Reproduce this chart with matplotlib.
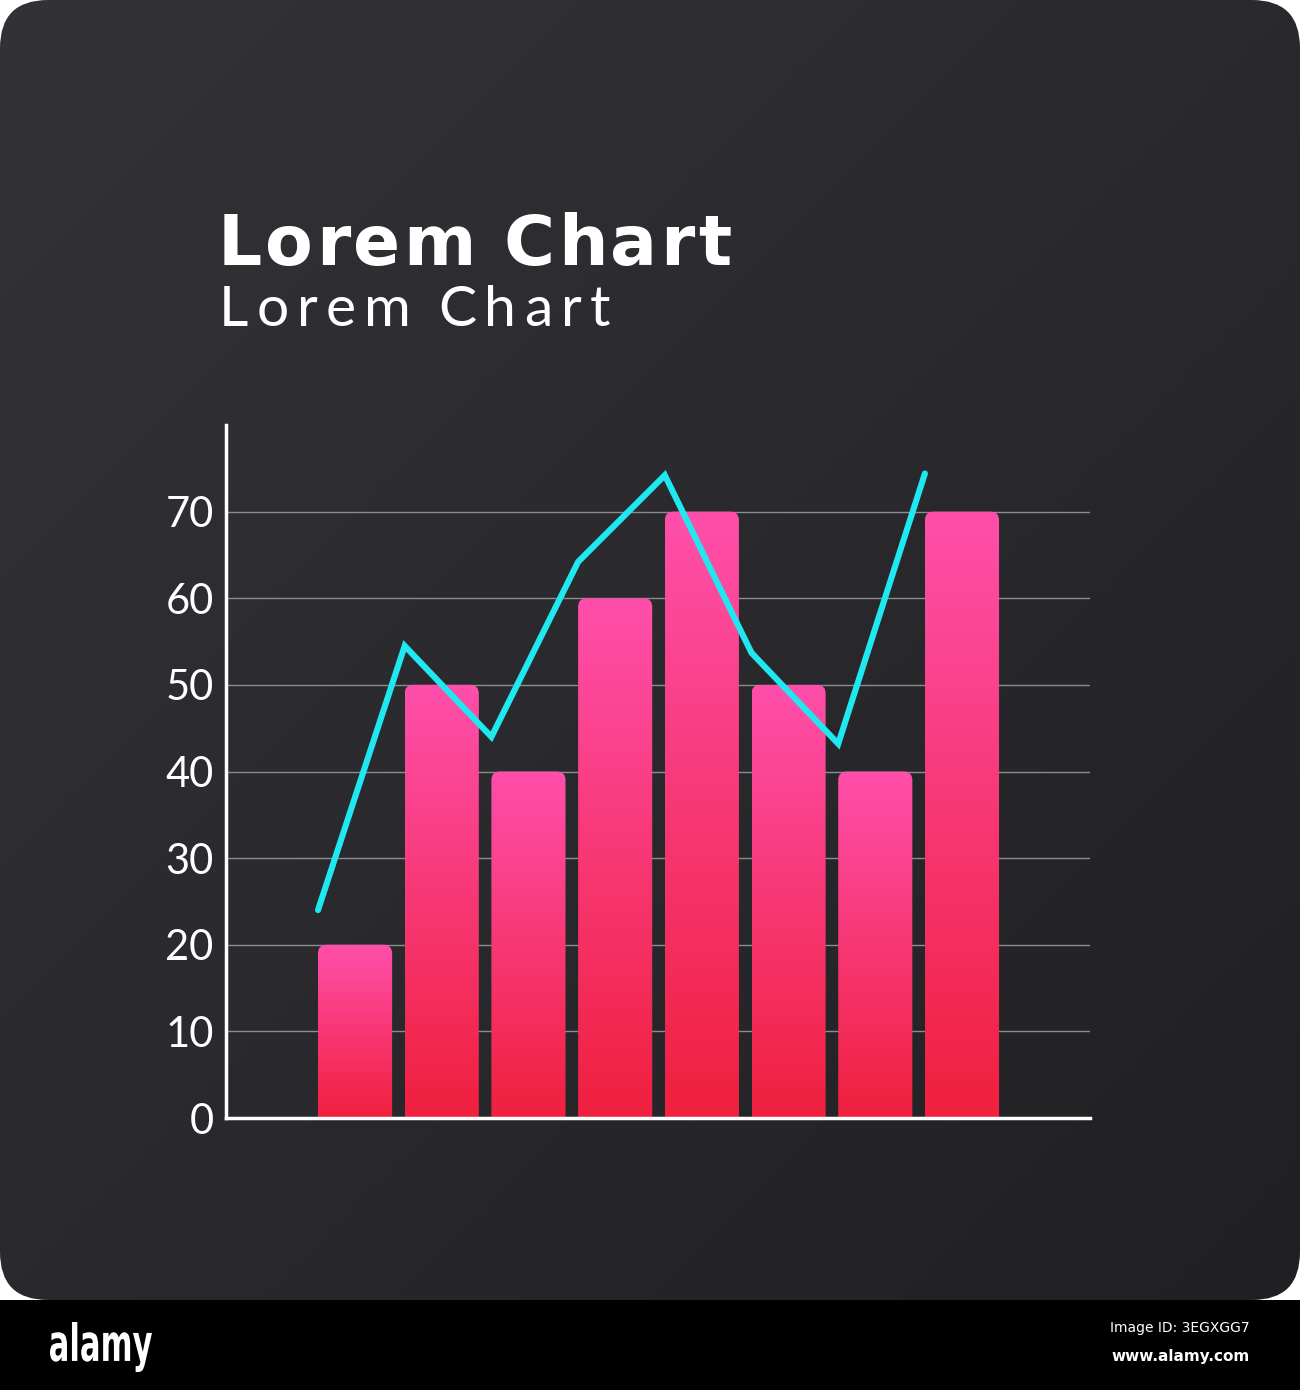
import numpy as np
import matplotlib
matplotlib.use("Agg")
from matplotlib import pyplot as plt
from matplotlib.patches import FancyBboxPatch, Rectangle, PathPatch
from matplotlib.colors import LinearSegmentedColormap
from matplotlib.textpath import TextPath
from matplotlib.font_manager import FontProperties
from matplotlib.transforms import Affine2D

# data
categories = [1, 2, 3, 4, 5, 6, 7, 8]
bar_values = [20, 50, 40, 60, 70, 50, 40, 70]
line_values = [24, 54.5, 44, 64.2, 74.2, 53.7, 43.2, 74.4]
y_ticks = [0, 10, 20, 30, 40, 50, 60, 70]
title = "Lorem Chart"
subtitle = "Lorem Chart"

W, H = 1300, 1390
fig = plt.figure(figsize=(W / 100, H / 100), dpi=100)
fig.patch.set_facecolor("white")
renderer = fig.canvas.get_renderer()


def spaced_text(x_px, y_px, s, tracking, space_w, **kw):
    # draw text one char at a time to get the wide letter spacing
    for ch in s:
        if ch == " ":
            x_px += space_w
            continue
        t = fig.text(x_px / W, 1 - y_px / H, ch, va="baseline", ha="left", **kw)
        x_px += t.get_window_extent(renderer).width + tracking


# background card + footer strip
bg = fig.add_axes([0, 0, 1, 1])
bg.set_xlim(0, W)
bg.set_ylim(H, 0)
bg.axis("off")
card = FancyBboxPatch((0, 0), W, 1300, boxstyle="round,pad=0,rounding_size=48",
                      fc="none", ec="none")
bg.add_patch(card)
gx, gy = np.meshgrid(np.linspace(0, 1, 200), np.linspace(0, 1, 200))
diag = (gx + gy) / 2
card_cmap = LinearSegmentedColormap.from_list("card", ["#333237", "#2a2a2e", "#202023"])
im = bg.imshow(diag, extent=[0, W, 1300, 0], cmap=card_cmap, aspect="auto", zorder=0)
im.set_clip_path(card)
bg.add_patch(Rectangle((0, 1300), W, 90, fc="black", ec="none", zorder=1))
bg.set_xlim(0, W)
bg.set_ylim(H, 0)

# condensed footer logo, squeezed from a text path
logo = TextPath((0, 0), "alamy", size=1, prop=FontProperties(family="DejaVu Sans", weight="bold"))
lb = logo.get_extents()
sx = 102 / lb.width
sy = 50 / lb.height
tr = Affine2D().translate(-lb.x0, -lb.y0).scale(sx, -sy).translate(50, 1372)
bg.add_patch(PathPatch(tr.transform_path(logo), fc="white", ec="none", zorder=2))
bg.text(1250, 1328, "Image ID: 3EGXGG7", color="white", fontsize=10,
        va="center", ha="right")
bg.text(1250, 1357, "www.alamy.com", color="white", fontsize=11, weight="bold",
        va="center", ha="right")

# titles
spaced_text(218, 265, title, 3, 25, color="white", fontsize=50, weight="bold",
            family="DejaVu Sans")
spaced_text(219, 326, subtitle, 8, 20, color="white", fontsize=41,
            family="Lato")

# main chart
ax = fig.add_axes([226 / W, 1 - 1118 / H, (1090 - 226) / W, (1118 - 425) / H])
ax.set_facecolor("none")
xlim = (-0.061, 9.904)
ylim = (0, 80)

bar_w = 0.855
bar_cmap = LinearSegmentedColormap.from_list("bar", ["#f0203e", "#ff4fab"])
grad = np.linspace(0, 1, 256).reshape(-1, 1)
for x, h in zip(categories, bar_values):
    patch = FancyBboxPatch((x, -5), bar_w, h + 5,
                           boxstyle="round,pad=0,rounding_size=0.1",
                           mutation_aspect=10, fc="none", ec="none")
    ax.add_patch(patch)
    b = ax.imshow(grad, extent=[x, x + bar_w, 0, h], origin="lower",
                  cmap=bar_cmap, aspect="auto", zorder=2)
    b.set_clip_path(patch)

ax.plot(categories, line_values, color="#20e8f0", lw=4.4,
        solid_capstyle="round", solid_joinstyle="miter", zorder=3)

ax.set_xlim(*xlim)
ax.set_ylim(*ylim)
ax.set_xticks([])
ax.set_yticks(y_ticks)
ax.set_yticklabels([str(t) for t in y_ticks], color="white", fontsize=30,
                   family="Lato")
ax.tick_params(axis="y", length=0, pad=9)
ax.grid(axis="y", color="#8c8c8c", lw=1.0, zorder=1)
ax.set_axisbelow(True)
for s in ["top", "right"]:
    ax.spines[s].set_visible(False)
for s in ["left", "bottom"]:
    ax.spines[s].set_color("white")
    ax.spines[s].set_linewidth(2.5)
    ax.spines[s].set_zorder(4)

fig.savefig("out.png", dpi=100)
